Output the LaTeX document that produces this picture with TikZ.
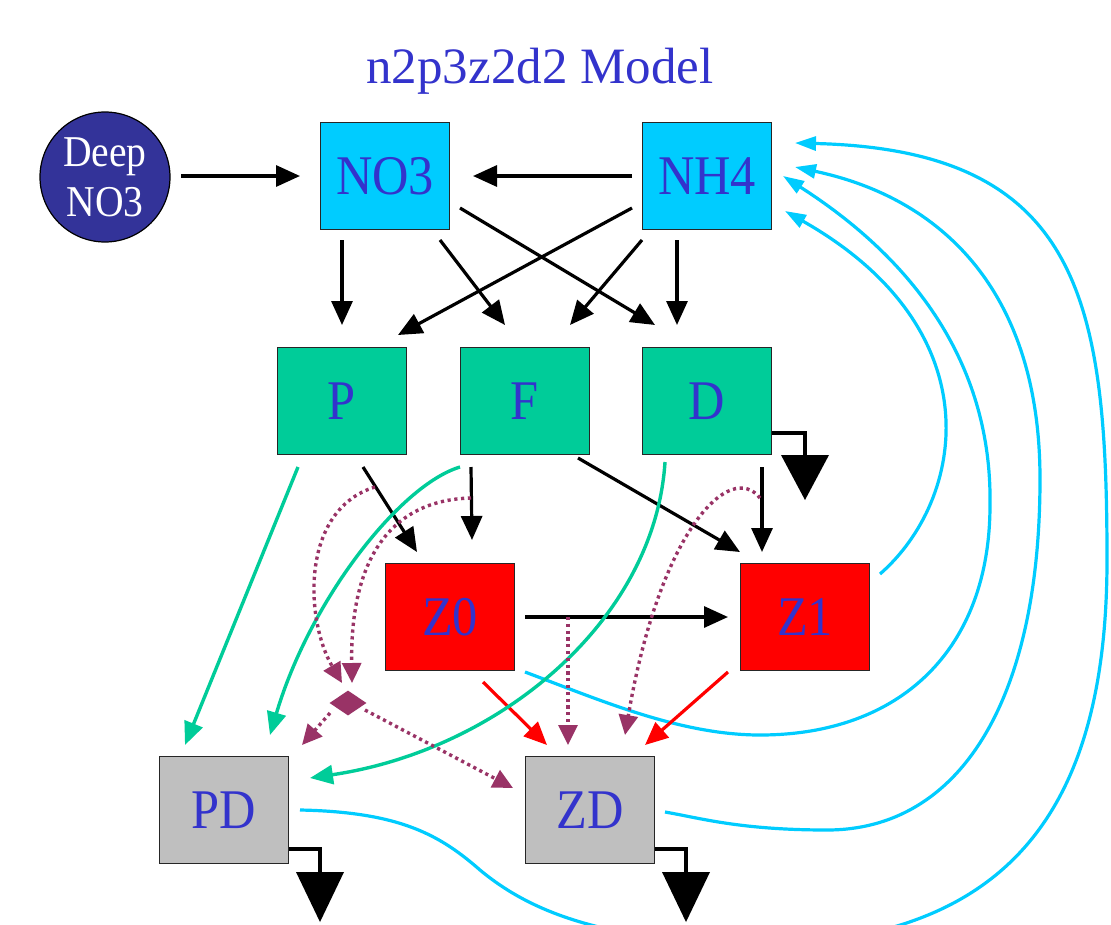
\documentclass[tikz,border=0pt]{standalone}
\usepackage{fontspec}
\setmainfont{Liberation Serif}
\usetikzlibrary{arrows.meta,calc,shapes.geometric}
\definecolor{txtblue}{HTML}{3333CC}
\definecolor{boxcyan}{HTML}{00CCFF}
\definecolor{boxgreen}{HTML}{00CC99}
\definecolor{deepblue}{HTML}{333399}
\definecolor{boxgray}{HTML}{BFBFBF}
\definecolor{dotpurple}{HTML}{993366}
\newcommand\mylbl[1]{\scalebox{0.9}[1]{#1}}
\begin{document}
\begin{tikzpicture}[x=1pt,y=-1pt,
  box/.style={draw=black!85,line width=1.2pt,minimum width=129pt,minimum height=107pt,
    inner sep=0pt,text=txtblue,font=\fontsize{56}{60}\selectfont},
  cyanbox/.style={box,fill=boxcyan},
  greenbox/.style={box,fill=boxgreen},
  redbox/.style={box,fill=red},
  graybox/.style={box,fill=boxgray},
  blk/.style={draw=black,line width=3.2pt,-{Triangle[length=24pt,width=21pt]}},
  redarr/.style={draw=red,line width=3.2pt,-{Triangle[length=23pt,width=20pt]}},
  grn/.style={draw=boxgreen,line width=3.4pt,-{Triangle[length=23pt,width=19pt]}},
  cyn/.style={draw=boxcyan,line width=3.2pt,-{Triangle[length=21pt,width=14pt]}},
  dot/.style={draw=dotpurple,line width=3.4pt,dash pattern=on 3.2pt off 3.6pt,
    -{Triangle[length=20pt,width=19pt]}},
  sinkline/.style={draw=black,line width=3.4pt},
]
\useasboundingbox (0,0) rectangle (1111,924);
\fill[white] (0,0) rectangle (1111,924);

% title
\node[anchor=base,text=txtblue,font=\fontsize{51}{56}\selectfont] (title) at (540,83) {n2p3z2d2 Model};

% nodes
\node[circle,draw=black,line width=1.2pt,fill=deepblue,minimum size=130pt,inner sep=0pt,
  text=white,align=center,font=\fontsize{44}{50}\selectfont] (Deep) at (105,177) {\mylbl{Deep}\\\mylbl{NO3}};
\node[cyanbox] (NO3) at (385,176) {\mylbl{NO3}};
\node[cyanbox] (NH4) at (707,176) {\mylbl{NH4}};
\node[greenbox] (P) at (342,401) {\mylbl{P}};
\node[greenbox] (F) at (525,401) {\mylbl{F}};
\node[greenbox] (D) at (707,401) {\mylbl{D}};
\node[redbox] (Z0) at (450,617) {\mylbl{Z0}};
\node[redbox] (Z1) at (805,617) {\mylbl{Z1}};
\node[graybox] (PD) at (224,810) {\mylbl{PD}};
\node[graybox] (ZD) at (590,810) {\mylbl{ZD}};
\node[diamond,fill=dotpurple,minimum width=37pt,minimum height=25pt,inner sep=0pt] (dia) at (348,703) {};

% cyan return curves
\draw[cyn] ($(Z1)+(75,-43)$) .. controls (965,500) and (995,330) .. ($(NH4)+(78,35)$);
\draw[cyn] ($(Z0)+(75,55)$) .. controls (600,700) and (680,735) .. (760,735)
  .. controls (900,735) and (990,650) .. (990,505)
  .. controls (992,380) and (930,270) .. ($(NH4)+(76,0)$);
\draw[cyn] ($(ZD)+(75,2)$) .. controls (700,818) and (740,830) .. (827,830)
  .. controls (960,830) and (1040,700) .. (1040,479)
  .. controls (1040,300) and (950,200) .. ($(NH4)+(88,-9)$);
\draw[cyn] ($(PD)+(76,0)$) .. controls (400,812) and (440,835) .. (480,870)
  .. controls (540,920) and (620,940) .. (750,945)
  .. controls (1000,945) and (1107,820) .. (1107,560)
  .. controls (1107,300) and (1080,150) .. ($(NH4)+(88,-33)$);

% black arrows
\draw[blk] ($(Deep)+(76,-1)$) -- ($(NO3)+(-85,0)$);
\draw[blk] ($(NH4)+(-75,0)$) -- ($(NO3)+(88,0)$);
\draw[blk] ($(NO3)+(-43,64)$) -- ($(P)+(0,-76)$);
\draw[blk] ($(NO3)+(55,64)$) -- ($(F)+(-20,-76)$);
\draw[blk] ($(NO3)+(75,32)$) -- ($(D)+(-52,-76)$);
\draw[blk] ($(NH4)+(-75,32)$) -- ($(P)+(56,-66)$);
\draw[blk] ($(NH4)+(-65,64)$) -- ($(F)+(45,-76)$);
\draw[blk] ($(NH4)+(-30,64)$) -- ($(D)+(-30,-76)$);
\draw[blk] ($(P)+(21,66)$) -- ($(Z0)+(-33,-65)$);
\draw[blk] ($(F)+(-54,66)$) -- ($(Z0)+(22,-77)$);
\draw[blk] ($(F)+(53,57)$) -- ($(Z1)+(-65,-65)$);
\draw[blk] ($(D)+(55,66)$) -- ($(Z1)+(-43,-65)$);
\draw[blk] ($(Z0)+(75,0)$) -- ($(Z1)+(-77,0)$);

% red arrows
\draw[redarr] ($(Z0)+(33,65)$) -- ($(ZD)+(-43,-65)$);
\draw[redarr] ($(Z1)+(-77,55)$) -- ($(ZD)+(55,-65)$);

% green arrows
\draw[grn] ($(P)+(-44,66)$) -- ($(PD)+(-39,-65)$);
\draw[grn] ($(F)+(-65,66)$) .. controls (400,485) and (310,600) .. ($(PD)+(46,-75)$);
\draw[grn] ($(D)+(-42,61)$) .. controls (655,620) and (500,750) .. ($(PD)+(86,-32)$);

% purple dotted arrows
\draw[dot] ($(P)+(33,86)$) .. controls (300,510) and (305,620) .. ($(dia)+(-6,-20)$);
\draw[dot] ($(F)+(-54,97)$) .. controls (390,500) and (350,560) .. ($(dia)+(4,-20)$);
\draw[dot] ($(D)+(53,97)$) .. controls (730,460) and (660,530) .. ($(ZD)+(35,-75)$);
\draw[dot] ($(Z0)+(118,0)$) -- ($(ZD)+(-22,-65)$);
\draw[dot] ($(dia)+(-18,10)$) -- ($(PD)+(78,-65)$);
\draw[dot] ($(dia)+(17,7)$) -- ($(ZD)+(-77,-22)$);

% sinks
\coordinate (Dk) at ($(D)+(98,54)$);
\coordinate (PDk) at ($(PD)+(96,62)$);
\coordinate (ZDk) at ($(ZD)+(96,62)$);
\draw[sinkline] ($(D.east)+(0,32)$) -| (Dk);
\draw[sinkline] ($(PD.east)+(0,39)$) -| (PDk);
\draw[sinkline] ($(ZD.east)+(0,39)$) -| (ZDk);
\fill ($(Dk)+(-24,0)$) -- ($(Dk)+(24,0)$) -- ($(Dk)+(0,45)$) -- cycle;
\fill ($(PDk)+(-24,0)$) -- ($(PDk)+(24,0)$) -- ($(PDk)+(0,50)$) -- cycle;
\fill ($(ZDk)+(-24,0)$) -- ($(ZDk)+(24,0)$) -- ($(ZDk)+(0,50)$) -- cycle;
\end{tikzpicture}
\end{document}
